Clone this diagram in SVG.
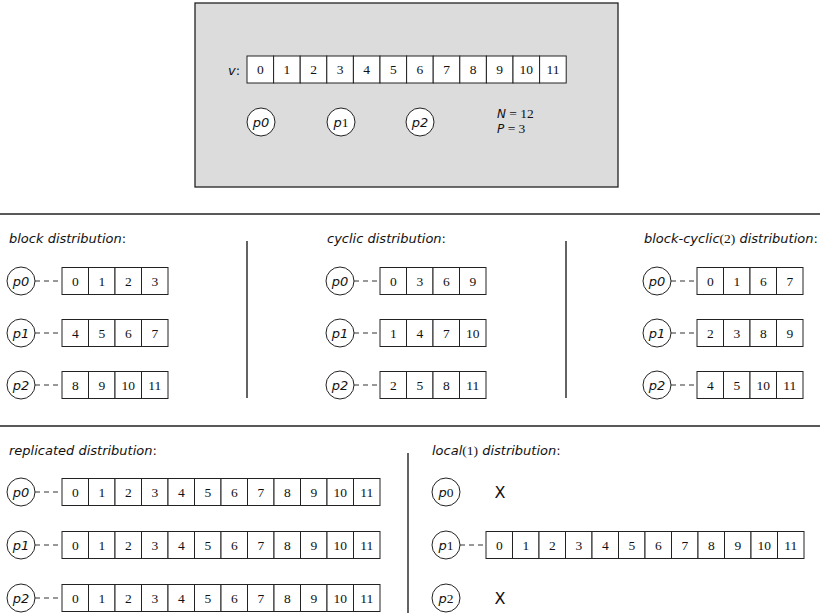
<svg xmlns="http://www.w3.org/2000/svg" width="820" height="613" viewBox="0 0 820 613">
<style>
.bg{fill:#ffffff}
.panel{fill:#dcdcdc;stroke:#222;stroke-width:1.3}
.sep{stroke:#222;stroke-width:1.4;fill:none}
.cell{fill:#ffffff;stroke:#222;stroke-width:1}
.num{font-family:"Liberation Serif",serif;font-size:13.5px;fill:#111;text-anchor:middle}
.proc{fill:#ffffff;stroke:#222;stroke-width:1}
.pl{font-family:"DejaVu Sans",sans-serif;font-style:italic;font-size:13px;fill:#111;text-anchor:middle}
.title{font-family:"DejaVu Sans",sans-serif;font-style:italic;font-size:13px;fill:#111}
.np{font-family:"DejaVu Sans",sans-serif;font-style:italic;font-size:12px;fill:#111}
.ser{font-family:"Liberation Serif",serif;font-style:normal;font-size:13.5px}
.up{font-style:normal}
.dash{stroke:#333;stroke-width:1;stroke-dasharray:5,4;fill:none}
.x{font-family:"DejaVu Sans",sans-serif;font-size:16px;fill:#111;text-anchor:middle}
</style>
<rect class="bg" x="0" y="0" width="820" height="613"/>

<g id="overview">
<rect class="panel" x="195" y="3" width="423" height="184"/>
<text class="title" x="228" y="75">v<tspan class="up">:</tspan></text>
<g id="v-array">
<rect class="cell" x="247" y="56" width="26.6" height="27"/><rect class="cell" x="273.6" y="56" width="26.6" height="27"/><rect class="cell" x="300.2" y="56" width="26.6" height="27"/><rect class="cell" x="326.8" y="56" width="26.6" height="27"/><rect class="cell" x="353.4" y="56" width="26.6" height="27"/><rect class="cell" x="380" y="56" width="26.6" height="27"/><rect class="cell" x="406.6" y="56" width="26.6" height="27"/><rect class="cell" x="433.2" y="56" width="26.6" height="27"/><rect class="cell" x="459.8" y="56" width="26.6" height="27"/><rect class="cell" x="486.4" y="56" width="26.6" height="27"/><rect class="cell" x="513" y="56" width="26.6" height="27"/><rect class="cell" x="539.6" y="56" width="26.6" height="27"/>
<text class="num" x="260.3" y="74">0</text><text class="num" x="286.9" y="74">1</text><text class="num" x="313.5" y="74">2</text><text class="num" x="340.1" y="74">3</text><text class="num" x="366.7" y="74">4</text><text class="num" x="393.3" y="74">5</text><text class="num" x="419.9" y="74">6</text><text class="num" x="446.5" y="74">7</text><text class="num" x="473.1" y="74">8</text><text class="num" x="499.7" y="74">9</text><text class="num" x="526.3" y="74">10</text><text class="num" x="552.9" y="74">11</text>
</g>
<g id="ov-p0"><circle class="proc" cx="261" cy="122" r="14"/><text class="pl" x="261" y="126.5">p0</text></g>
<g id="ov-p1"><circle class="proc" cx="341" cy="122" r="14"/><text class="pl" x="341" y="126.5">p<tspan class="ser">1</tspan></text></g>
<g id="ov-p2"><circle class="proc" cx="420" cy="122" r="14"/><text class="pl" x="420" y="126.5">p2</text></g>
<text class="np" x="497" y="118">N<tspan class="ser"> = 12</tspan></text>
<text class="np" x="497" y="133">P<tspan class="ser"> = 3</tspan></text>
</g>

<g id="separators">
<line class="sep" x1="0" y1="214" x2="820" y2="214"/>
<line class="sep" x1="0" y1="426" x2="820" y2="426"/>
<line class="sep" x1="247" y1="241" x2="247" y2="398"/>
<line class="sep" x1="566" y1="241" x2="566" y2="398"/>
<line class="sep" x1="408" y1="453" x2="408" y2="613"/>
</g>

<text class="title" x="9" y="243">block distribution<tspan class="up">:</tspan></text>
<text class="title" x="327" y="243">cyclic distribution<tspan class="up">:</tspan></text>
<text class="title" x="644" y="243">block-cyclic<tspan class="ser">(2)</tspan> distribution<tspan class="up">:</tspan></text>
<text class="title" x="9" y="455">replicated distribution<tspan class="up">:</tspan></text>
<text class="title" x="432" y="455">local<tspan class="ser">(1)</tspan> distribution<tspan class="up">:</tspan></text>

<g id="connectors">
<line class="dash" x1="35" y1="281" x2="62" y2="281"/>
<line class="dash" x1="35" y1="333" x2="62" y2="333"/>
<line class="dash" x1="35" y1="385" x2="62" y2="385"/>
<line class="dash" x1="354" y1="281" x2="380" y2="281"/>
<line class="dash" x1="354" y1="333" x2="380" y2="333"/>
<line class="dash" x1="354" y1="385" x2="380" y2="385"/>
<line class="dash" x1="671" y1="281" x2="697" y2="281"/>
<line class="dash" x1="671" y1="333" x2="697" y2="333"/>
<line class="dash" x1="671" y1="385" x2="697" y2="385"/>
<line class="dash" x1="35" y1="492" x2="62" y2="492"/>
<line class="dash" x1="35" y1="545" x2="62" y2="545"/>
<line class="dash" x1="35" y1="598" x2="62" y2="598"/>
<line class="dash" x1="460" y1="545" x2="486" y2="545"/>
</g>

<!-- block distribution -->
<g id="block-p0"><circle class="proc" cx="21" cy="281" r="14"/><text class="pl" x="21" y="285.5">p0</text></g>
<g id="block-p1"><circle class="proc" cx="21" cy="333" r="14"/><text class="pl" x="21" y="337.5">p1</text></g>
<g id="block-p2"><circle class="proc" cx="21" cy="385" r="14"/><text class="pl" x="21" y="389.5">p2</text></g>
<g id="block-a0">
<rect class="cell" x="62" y="267.5" width="26.5" height="27"/><rect class="cell" x="88.5" y="267.5" width="26.5" height="27"/><rect class="cell" x="115" y="267.5" width="26.5" height="27"/><rect class="cell" x="141.5" y="267.5" width="26.5" height="27"/>
<text class="num" x="75.25" y="285.5">0</text><text class="num" x="101.75" y="285.5">1</text><text class="num" x="128.25" y="285.5">2</text><text class="num" x="154.75" y="285.5">3</text>
</g>
<g id="block-a1">
<rect class="cell" x="62" y="319.5" width="26.5" height="27"/><rect class="cell" x="88.5" y="319.5" width="26.5" height="27"/><rect class="cell" x="115" y="319.5" width="26.5" height="27"/><rect class="cell" x="141.5" y="319.5" width="26.5" height="27"/>
<text class="num" x="75.25" y="337.5">4</text><text class="num" x="101.75" y="337.5">5</text><text class="num" x="128.25" y="337.5">6</text><text class="num" x="154.75" y="337.5">7</text>
</g>
<g id="block-a2">
<rect class="cell" x="62" y="371.5" width="26.5" height="27"/><rect class="cell" x="88.5" y="371.5" width="26.5" height="27"/><rect class="cell" x="115" y="371.5" width="26.5" height="27"/><rect class="cell" x="141.5" y="371.5" width="26.5" height="27"/>
<text class="num" x="75.25" y="389.5">8</text><text class="num" x="101.75" y="389.5">9</text><text class="num" x="128.25" y="389.5">10</text><text class="num" x="154.75" y="389.5">11</text>
</g>

<!-- cyclic distribution -->
<g id="cyc-p0"><circle class="proc" cx="340" cy="281" r="14"/><text class="pl" x="340" y="285.5">p0</text></g>
<g id="cyc-p1"><circle class="proc" cx="340" cy="333" r="14"/><text class="pl" x="340" y="337.5">p1</text></g>
<g id="cyc-p2"><circle class="proc" cx="340" cy="385" r="14"/><text class="pl" x="340" y="389.5">p2</text></g>
<g id="cyc-a0">
<rect class="cell" x="380" y="267.5" width="26.5" height="27"/><rect class="cell" x="406.5" y="267.5" width="26.5" height="27"/><rect class="cell" x="433" y="267.5" width="26.5" height="27"/><rect class="cell" x="459.5" y="267.5" width="26.5" height="27"/>
<text class="num" x="393.25" y="285.5">0</text><text class="num" x="419.75" y="285.5">3</text><text class="num" x="446.25" y="285.5">6</text><text class="num" x="472.75" y="285.5">9</text>
</g>
<g id="cyc-a1">
<rect class="cell" x="380" y="319.5" width="26.5" height="27"/><rect class="cell" x="406.5" y="319.5" width="26.5" height="27"/><rect class="cell" x="433" y="319.5" width="26.5" height="27"/><rect class="cell" x="459.5" y="319.5" width="26.5" height="27"/>
<text class="num" x="393.25" y="337.5">1</text><text class="num" x="419.75" y="337.5">4</text><text class="num" x="446.25" y="337.5">7</text><text class="num" x="472.75" y="337.5">10</text>
</g>
<g id="cyc-a2">
<rect class="cell" x="380" y="371.5" width="26.5" height="27"/><rect class="cell" x="406.5" y="371.5" width="26.5" height="27"/><rect class="cell" x="433" y="371.5" width="26.5" height="27"/><rect class="cell" x="459.5" y="371.5" width="26.5" height="27"/>
<text class="num" x="393.25" y="389.5">2</text><text class="num" x="419.75" y="389.5">5</text><text class="num" x="446.25" y="389.5">8</text><text class="num" x="472.75" y="389.5">11</text>
</g>

<!-- block-cyclic(2) distribution -->
<g id="bc-p0"><circle class="proc" cx="657" cy="281" r="14"/><text class="pl" x="657" y="285.5">p0</text></g>
<g id="bc-p1"><circle class="proc" cx="657" cy="333" r="14"/><text class="pl" x="657" y="337.5">p1</text></g>
<g id="bc-p2"><circle class="proc" cx="657" cy="385" r="14"/><text class="pl" x="657" y="389.5">p2</text></g>
<g id="bc-a0">
<rect class="cell" x="697" y="267.5" width="26.5" height="27"/><rect class="cell" x="723.5" y="267.5" width="26.5" height="27"/><rect class="cell" x="750" y="267.5" width="26.5" height="27"/><rect class="cell" x="776.5" y="267.5" width="26.5" height="27"/>
<text class="num" x="710.25" y="285.5">0</text><text class="num" x="736.75" y="285.5">1</text><text class="num" x="763.25" y="285.5">6</text><text class="num" x="789.75" y="285.5">7</text>
</g>
<g id="bc-a1">
<rect class="cell" x="697" y="319.5" width="26.5" height="27"/><rect class="cell" x="723.5" y="319.5" width="26.5" height="27"/><rect class="cell" x="750" y="319.5" width="26.5" height="27"/><rect class="cell" x="776.5" y="319.5" width="26.5" height="27"/>
<text class="num" x="710.25" y="337.5">2</text><text class="num" x="736.75" y="337.5">3</text><text class="num" x="763.25" y="337.5">8</text><text class="num" x="789.75" y="337.5">9</text>
</g>
<g id="bc-a2">
<rect class="cell" x="697" y="371.5" width="26.5" height="27"/><rect class="cell" x="723.5" y="371.5" width="26.5" height="27"/><rect class="cell" x="750" y="371.5" width="26.5" height="27"/><rect class="cell" x="776.5" y="371.5" width="26.5" height="27"/>
<text class="num" x="710.25" y="389.5">4</text><text class="num" x="736.75" y="389.5">5</text><text class="num" x="763.25" y="389.5">10</text><text class="num" x="789.75" y="389.5">11</text>
</g>

<!-- replicated distribution -->
<g id="rep-p0"><circle class="proc" cx="21" cy="492" r="14"/><text class="pl" x="21" y="496.5">p0</text></g>
<g id="rep-p1"><circle class="proc" cx="21" cy="545" r="14"/><text class="pl" x="21" y="549.5">p1</text></g>
<g id="rep-p2"><circle class="proc" cx="21" cy="598" r="14"/><text class="pl" x="21" y="602.5">p2</text></g>
<g id="rep-a0">
<rect class="cell" x="62" y="478.5" width="26.5" height="27"/><rect class="cell" x="88.5" y="478.5" width="26.5" height="27"/><rect class="cell" x="115" y="478.5" width="26.5" height="27"/><rect class="cell" x="141.5" y="478.5" width="26.5" height="27"/><rect class="cell" x="168" y="478.5" width="26.5" height="27"/><rect class="cell" x="194.5" y="478.5" width="26.5" height="27"/><rect class="cell" x="221" y="478.5" width="26.5" height="27"/><rect class="cell" x="247.5" y="478.5" width="26.5" height="27"/><rect class="cell" x="274" y="478.5" width="26.5" height="27"/><rect class="cell" x="300.5" y="478.5" width="26.5" height="27"/><rect class="cell" x="327" y="478.5" width="26.5" height="27"/><rect class="cell" x="353.5" y="478.5" width="26.5" height="27"/>
<text class="num" x="75.25" y="496.5">0</text><text class="num" x="101.75" y="496.5">1</text><text class="num" x="128.25" y="496.5">2</text><text class="num" x="154.75" y="496.5">3</text><text class="num" x="181.25" y="496.5">4</text><text class="num" x="207.75" y="496.5">5</text><text class="num" x="234.25" y="496.5">6</text><text class="num" x="260.75" y="496.5">7</text><text class="num" x="287.25" y="496.5">8</text><text class="num" x="313.75" y="496.5">9</text><text class="num" x="340.25" y="496.5">10</text><text class="num" x="366.75" y="496.5">11</text>
</g>
<g id="rep-a1">
<rect class="cell" x="62" y="531.5" width="26.5" height="27"/><rect class="cell" x="88.5" y="531.5" width="26.5" height="27"/><rect class="cell" x="115" y="531.5" width="26.5" height="27"/><rect class="cell" x="141.5" y="531.5" width="26.5" height="27"/><rect class="cell" x="168" y="531.5" width="26.5" height="27"/><rect class="cell" x="194.5" y="531.5" width="26.5" height="27"/><rect class="cell" x="221" y="531.5" width="26.5" height="27"/><rect class="cell" x="247.5" y="531.5" width="26.5" height="27"/><rect class="cell" x="274" y="531.5" width="26.5" height="27"/><rect class="cell" x="300.5" y="531.5" width="26.5" height="27"/><rect class="cell" x="327" y="531.5" width="26.5" height="27"/><rect class="cell" x="353.5" y="531.5" width="26.5" height="27"/>
<text class="num" x="75.25" y="549.5">0</text><text class="num" x="101.75" y="549.5">1</text><text class="num" x="128.25" y="549.5">2</text><text class="num" x="154.75" y="549.5">3</text><text class="num" x="181.25" y="549.5">4</text><text class="num" x="207.75" y="549.5">5</text><text class="num" x="234.25" y="549.5">6</text><text class="num" x="260.75" y="549.5">7</text><text class="num" x="287.25" y="549.5">8</text><text class="num" x="313.75" y="549.5">9</text><text class="num" x="340.25" y="549.5">10</text><text class="num" x="366.75" y="549.5">11</text>
</g>
<g id="rep-a2">
<rect class="cell" x="62" y="584.5" width="26.5" height="27"/><rect class="cell" x="88.5" y="584.5" width="26.5" height="27"/><rect class="cell" x="115" y="584.5" width="26.5" height="27"/><rect class="cell" x="141.5" y="584.5" width="26.5" height="27"/><rect class="cell" x="168" y="584.5" width="26.5" height="27"/><rect class="cell" x="194.5" y="584.5" width="26.5" height="27"/><rect class="cell" x="221" y="584.5" width="26.5" height="27"/><rect class="cell" x="247.5" y="584.5" width="26.5" height="27"/><rect class="cell" x="274" y="584.5" width="26.5" height="27"/><rect class="cell" x="300.5" y="584.5" width="26.5" height="27"/><rect class="cell" x="327" y="584.5" width="26.5" height="27"/><rect class="cell" x="353.5" y="584.5" width="26.5" height="27"/>
<text class="num" x="75.25" y="602.5">0</text><text class="num" x="101.75" y="602.5">1</text><text class="num" x="128.25" y="602.5">2</text><text class="num" x="154.75" y="602.5">3</text><text class="num" x="181.25" y="602.5">4</text><text class="num" x="207.75" y="602.5">5</text><text class="num" x="234.25" y="602.5">6</text><text class="num" x="260.75" y="602.5">7</text><text class="num" x="287.25" y="602.5">8</text><text class="num" x="313.75" y="602.5">9</text><text class="num" x="340.25" y="602.5">10</text><text class="num" x="366.75" y="602.5">11</text>
</g>

<!-- local(1) distribution -->
<g id="loc-p0"><circle class="proc" cx="446" cy="492" r="14"/><text class="pl" x="446" y="496.5">p<tspan class="ser">0</tspan></text></g>
<g id="loc-p1"><circle class="proc" cx="446" cy="545" r="14"/><text class="pl" x="446" y="549.5">p<tspan class="ser">1</tspan></text></g>
<g id="loc-p2"><circle class="proc" cx="446" cy="598" r="14"/><text class="pl" x="446" y="602.5">p<tspan class="ser">2</tspan></text></g>
<text class="x" x="500" y="498">X</text>
<text class="x" x="500" y="604">X</text>
<g id="loc-a1">
<rect class="cell" x="486" y="531.5" width="26.5" height="27"/><rect class="cell" x="512.5" y="531.5" width="26.5" height="27"/><rect class="cell" x="539" y="531.5" width="26.5" height="27"/><rect class="cell" x="565.5" y="531.5" width="26.5" height="27"/><rect class="cell" x="592" y="531.5" width="26.5" height="27"/><rect class="cell" x="618.5" y="531.5" width="26.5" height="27"/><rect class="cell" x="645" y="531.5" width="26.5" height="27"/><rect class="cell" x="671.5" y="531.5" width="26.5" height="27"/><rect class="cell" x="698" y="531.5" width="26.5" height="27"/><rect class="cell" x="724.5" y="531.5" width="26.5" height="27"/><rect class="cell" x="751" y="531.5" width="26.5" height="27"/><rect class="cell" x="777.5" y="531.5" width="26.5" height="27"/>
<text class="num" x="499.25" y="549.5">0</text><text class="num" x="525.75" y="549.5">1</text><text class="num" x="552.25" y="549.5">2</text><text class="num" x="578.75" y="549.5">3</text><text class="num" x="605.25" y="549.5">4</text><text class="num" x="631.75" y="549.5">5</text><text class="num" x="658.25" y="549.5">6</text><text class="num" x="684.75" y="549.5">7</text><text class="num" x="711.25" y="549.5">8</text><text class="num" x="737.75" y="549.5">9</text><text class="num" x="764.25" y="549.5">10</text><text class="num" x="790.75" y="549.5">11</text>
</g>
</svg>
